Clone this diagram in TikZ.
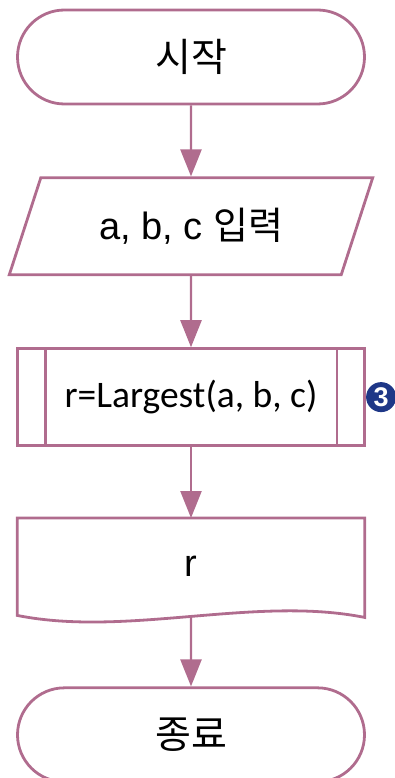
\documentclass[tikz,border=0pt]{standalone}
\usepackage{fontspec}
\setmainfont{Liberation Sans}
\newfontfamily\kr{Noto Sans CJK KR}
\newfontfamily\calib{Carlito}
\usepackage{xcolor}
\usetikzlibrary{arrows.meta,positioning,shapes.geometric,shapes.misc}

\definecolor{flowline}{RGB}{176,108,142}
\definecolor{badgeblue}{RGB}{30,55,135}

\begin{document}
\begin{tikzpicture}[
        x=1pt, y=1pt,
        node distance=71pt,
        line/.style={draw=flowline, line width=2.8pt},
        term/.style={rounded rectangle, line, minimum width=347pt,
                     minimum height=94pt, inner sep=0pt, font=\kr\fontsize{39}{44}\selectfont},
        iobox/.style={trapezium, trapezium left angle=62, trapezium right angle=118,
                      trapezium stretches=true, line, minimum width=364pt,
                      minimum height=97pt, inner sep=0pt, font=\fontsize{38}{44}\selectfont},
        subbox/.style={rectangle, line, minimum width=347pt, minimum height=97pt,
                       inner sep=0pt, font=\calib\fontsize{37.5}{44}\selectfont},
        docbox/.style={rectangle, minimum width=347pt, minimum height=97pt,
                       inner sep=0pt, font=\fontsize{38}{44}\selectfont},
        arrow/.style={-{Triangle[length=27pt, width=21pt]}, draw=flowline,
                      fill=flowline, line width=2.4pt}
    ]
        \useasboundingbox (0,0) rectangle (394,-778);

        \node[term] (start) at (191,-57) {시작};
        \node[iobox, below=of start] (input) {a, b, c {\kr 입력}};
        \node[subbox, below=of input] (call) {r=Largest(a, b, c)};
        \node[docbox, below=of call] (out) {r};
        \node[term, below=of out] (stop) {종료};

        % predefined process bars
        \draw[line] ([xshift=29pt]call.north west) -- ([xshift=29pt]call.south west);
        \draw[line] ([xshift=-29pt]call.north east) -- ([xshift=-29pt]call.south east);

        % document with wavy bottom
        \draw[line] (out.north west) -- (out.north east) -- ([yshift=-2pt]out.south east)
            .. controls ([xshift=-110pt,yshift=20pt]out.south east)
            and ([xshift=110pt,yshift=-22pt]out.south west) .. (out.south west) -- cycle;

        % badge
        \node[circle, fill=badgeblue, minimum size=30pt, inner sep=0pt, text=white,
              font=\bfseries\fontsize{27}{30}\selectfont, right=0pt of call] (badge) {3};

        \draw[arrow] (start) -- (input);
        \draw[arrow] (input) -- (call);
        \draw[arrow] (call) -- (out);
        \draw[arrow] (out.south) -- (stop);
    \end{tikzpicture}
\end{document}
